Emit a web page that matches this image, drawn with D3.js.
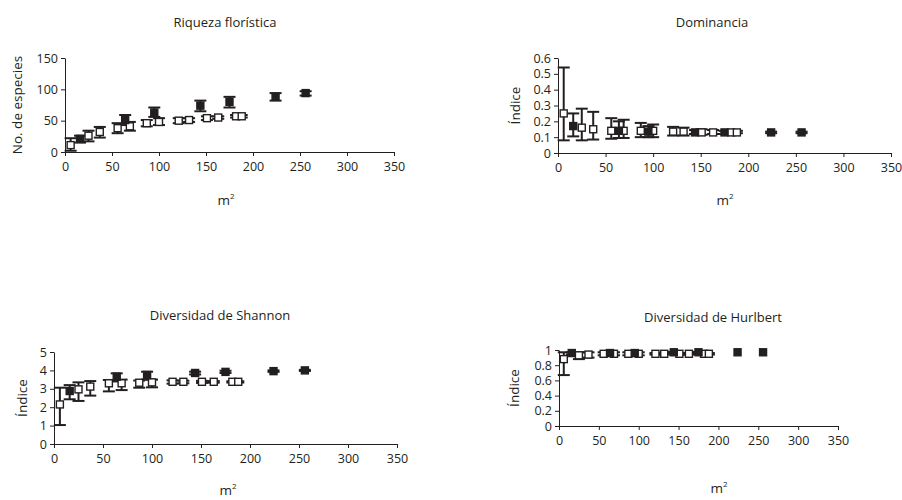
<!DOCTYPE html>
<html><head><meta charset="utf-8">
<script src="https://cdn.jsdelivr.net/npm/d3@7"></script>
<style>
body{margin:0;background:#fff;}
svg text{font-family:"Open Sans","Noto Sans",sans-serif;fill:#231f20;}
</style></head>
<body><svg id="c" width="902" height="500"></svg>
<script>
// x values (m²)
const xOpen = [6, 25, 37, 56, 69, 87, 100, 121, 132, 151, 163, 182, 188];
const xFilled = [16, 64, 95, 144, 175, 224, 256];

// Riqueza florística
const riqOpen   = [11, 26, 32, 38, 41, 46, 48, 50, 51, 54, 55, 57, 57];
const riqOpenLo = [2, 17, 23, 30, 34, 41, 43, 46, 48, 51, 53, 55, 55];
const riqOpenHi = [22, 34, 40, 46, 48, 51, 54, 54, 54, 57, 57, 59, 59];
const riqFilled   = [21, 51, 63, 74, 80, 88, 94];
const riqFilledLo = [15, 43, 56, 65, 71, 82, 90];
const riqFilledHi = [26, 59, 71, 82, 88, 94, 97];

// Dominancia
const domOpen   = [0.25, 0.16, 0.15, 0.14, 0.14, 0.14, 0.14, 0.135, 0.135, 0.13, 0.13, 0.13, 0.13];
const domOpenLo = [0.08, 0.08, 0.085, 0.09, 0.095, 0.10, 0.10, 0.11, 0.11, 0.115, 0.12, 0.125, 0.125];
const domOpenHi = [0.54, 0.28, 0.26, 0.22, 0.21, 0.19, 0.18, 0.165, 0.16, 0.15, 0.145, 0.14, 0.14];
const domFilled   = [0.17, 0.14, 0.135, 0.13, 0.13, 0.13, 0.13];
const domFilledLo = [0.105, 0.095, 0.10, 0.12, 0.12, 0.125, 0.125];
const domFilledHi = [0.25, 0.20, 0.17, 0.145, 0.14, 0.135, 0.135];

// Diversidad de Shannon
const shaOpen   = [2.15, 2.97, 3.12, 3.3, 3.3, 3.33, 3.35, 3.38, 3.38, 3.38, 3.38, 3.38, 3.38];
const shaOpenLo = [1.03, 2.34, 2.63, 2.86, 2.93, 3.06, 3.08, 3.28, 3.3, 3.32, 3.33, 3.34, 3.34];
const shaOpenHi = [3.06, 3.35, 3.42, 3.48, 3.5, 3.45, 3.5, 3.46, 3.44, 3.43, 3.42, 3.41, 3.41];
const shaFilled   = [2.88, 3.66, 3.75, 3.86, 3.92, 3.96, 4.0];
const shaFilledLo = [2.43, 3.4, 3.5, 3.78, 3.86, 3.92, 3.97];
const shaFilledHi = [3.2, 3.84, 3.93, 3.93, 3.98, 4.0, 4.03];

// Diversidad de Hurlbert
const hurOpen   = [0.88, 0.93, 0.94, 0.95, 0.95, 0.95, 0.95, 0.95, 0.95, 0.95, 0.95, 0.95, 0.95];
const hurOpenLo = [0.67, 0.88, 0.90, 0.93, 0.93, 0.93, 0.93, 0.94, 0.94, 0.94, 0.94, 0.94, 0.94];
const hurOpenHi = [0.97, 0.97, 0.97, 0.97, 0.97, 0.97, 0.97, 0.96, 0.96, 0.96, 0.96, 0.96, 0.96];
const hurFilled   = [0.96, 0.96, 0.96, 0.97, 0.97, 0.97, 0.97];
const hurFilledLo = [0.94, 0.95, 0.95, 0.96, 0.96, 0.97, 0.97];
const hurFilledHi = [0.97, 0.97, 0.97, 0.975, 0.975, 0.97, 0.97];

const xTicks = [0, 50, 100, 150, 200, 250, 300, 350];
const riqTicks = [0, 50, 100, 150];
const domTicks = [0, 0.1, 0.2, 0.3, 0.4, 0.5, 0.6];
const shaTicks = [0, 1, 2, 3, 4, 5];
const hurTicks = [0, 0.2, 0.4, 0.6, 0.8, 1];

const titles = ["Riqueza florística", "Dominancia", "Diversidad de Shannon", "Diversidad de Hurlbert"];
const yTitles = ["No. de especies", "Índice", "Índice", "Índice"];

const svg = d3.select("#c");

const panels = [
  {title: titles[0], ytitle: yTitles[0], x0: 65, x1: 394, y0: 152, y1: 58, ymax: 150, yt: riqTicks,
   open: [riqOpen, riqOpenLo, riqOpenHi], filled: [riqFilled, riqFilledLo, riqFilledHi],
   tx: 225, ty: 27, ytx: 17, mx: 226, my: 205},
  {title: titles[1], ytitle: yTitles[1], x0: 558, x1: 891, y0: 153, y1: 58, ymax: 0.6, yt: domTicks,
   open: [domOpen, domOpenLo, domOpenHi], filled: [domFilled, domFilledLo, domFilledHi],
   tx: 712, ty: 27, ytx: 515, mx: 725, my: 205},
  {title: titles[2], ytitle: yTitles[2], x0: 54, x1: 397, y0: 444, y1: 352, ymax: 5, yt: shaTicks,
   open: [shaOpen, shaOpenLo, shaOpenHi], filled: [shaFilled, shaFilledLo, shaFilledHi],
   tx: 220, ty: 320, ytx: 22, mx: 228, my: 495},
  {title: titles[3], ytitle: yTitles[3], x0: 559, x1: 838, y0: 426, y1: 350, ymax: 1, yt: hurTicks,
   open: [hurOpen, hurOpenLo, hurOpenHi], filled: [hurFilled, hurFilledLo, hurFilledHi],
   tx: 713, ty: 322, ytx: 514, mx: 719, my: 493}
];

panels.forEach(p => {
  const x = d3.scaleLinear().domain([0, 350]).range([p.x0, p.x1]);
  const y = d3.scaleLinear().domain([0, p.ymax]).range([p.y0, p.y1]);
  const g = svg.append("g");

  const xa = g.append("g").attr("transform", `translate(0,${p.y0})`)
    .call(d3.axisBottom(x).tickValues(xTicks).tickSize(4).tickSizeOuter(0).tickPadding(6).tickFormat(d3.format("d")));
  const ya = g.append("g").attr("transform", `translate(${p.x0},0)`)
    .call(d3.axisLeft(y).tickValues(p.yt).tickSize(4).tickSizeOuter(0).tickPadding(3).tickFormat(d => String(+d.toFixed(1))));
  [xa, ya].forEach(a => {
    a.selectAll("path,line").attr("stroke", "#231f20").attr("stroke-width", 1);
    a.selectAll("text").attr("font-size", 12.5).attr("fill", "#231f20")
      .style("font-family", '"Open Sans","Noto Sans",sans-serif');
  });

  g.append("text").attr("x", p.tx).attr("y", p.ty).attr("text-anchor", "middle")
    .attr("font-size", 13).text(p.title);
  g.append("text").attr("transform", `translate(${p.ytx},${(p.y0 + p.y1) / 2}) rotate(-90)`)
    .attr("text-anchor", "middle").attr("dy", "0.35em").attr("font-size", 13.5).text(p.ytitle);
  const mt = g.append("text").attr("x", p.mx).attr("y", p.my).attr("text-anchor", "middle").attr("font-size", 13.5);
  mt.append("tspan").text("m");
  mt.append("tspan").attr("font-size", 8).attr("dy", -6).text("2");

  const series = [
    {xs: xOpen, v: p.open, fill: "#fff"},
    {xs: xFilled, v: p.filled, fill: "#231f20"}
  ];
  series.forEach(s => {
    const data = s.xs.map((xv, i) => ({x: xv, m: s.v[0][i], lo: s.v[1][i], hi: s.v[2][i]}));
    const eb = g.append("g").attr("stroke", "#231f20").attr("stroke-width", 2);
    data.filter(d => d.hi > d.lo).forEach(d => {
      const cx = x(d.x);
      eb.append("line").attr("x1", cx).attr("x2", cx).attr("y1", y(d.lo)).attr("y2", y(d.hi));
      eb.append("line").attr("x1", cx - 6).attr("x2", cx + 6).attr("y1", y(d.lo)).attr("y2", y(d.lo));
      eb.append("line").attr("x1", cx - 6).attr("x2", cx + 6).attr("y1", y(d.hi)).attr("y2", y(d.hi));
    });
  });
  series.forEach(s => {
    const data = s.xs.map((xv, i) => ({x: xv, m: s.v[0][i]}));
    g.append("g").selectAll("rect").data(data).join("rect")
      .attr("x", d => x(d.x) - 3.5).attr("y", d => y(d.m) - 3.5)
      .attr("width", 7).attr("height", 7)
      .attr("fill", s.fill).attr("stroke", "#231f20").attr("stroke-width", 1.4);
  });
});
</script></body></html>
